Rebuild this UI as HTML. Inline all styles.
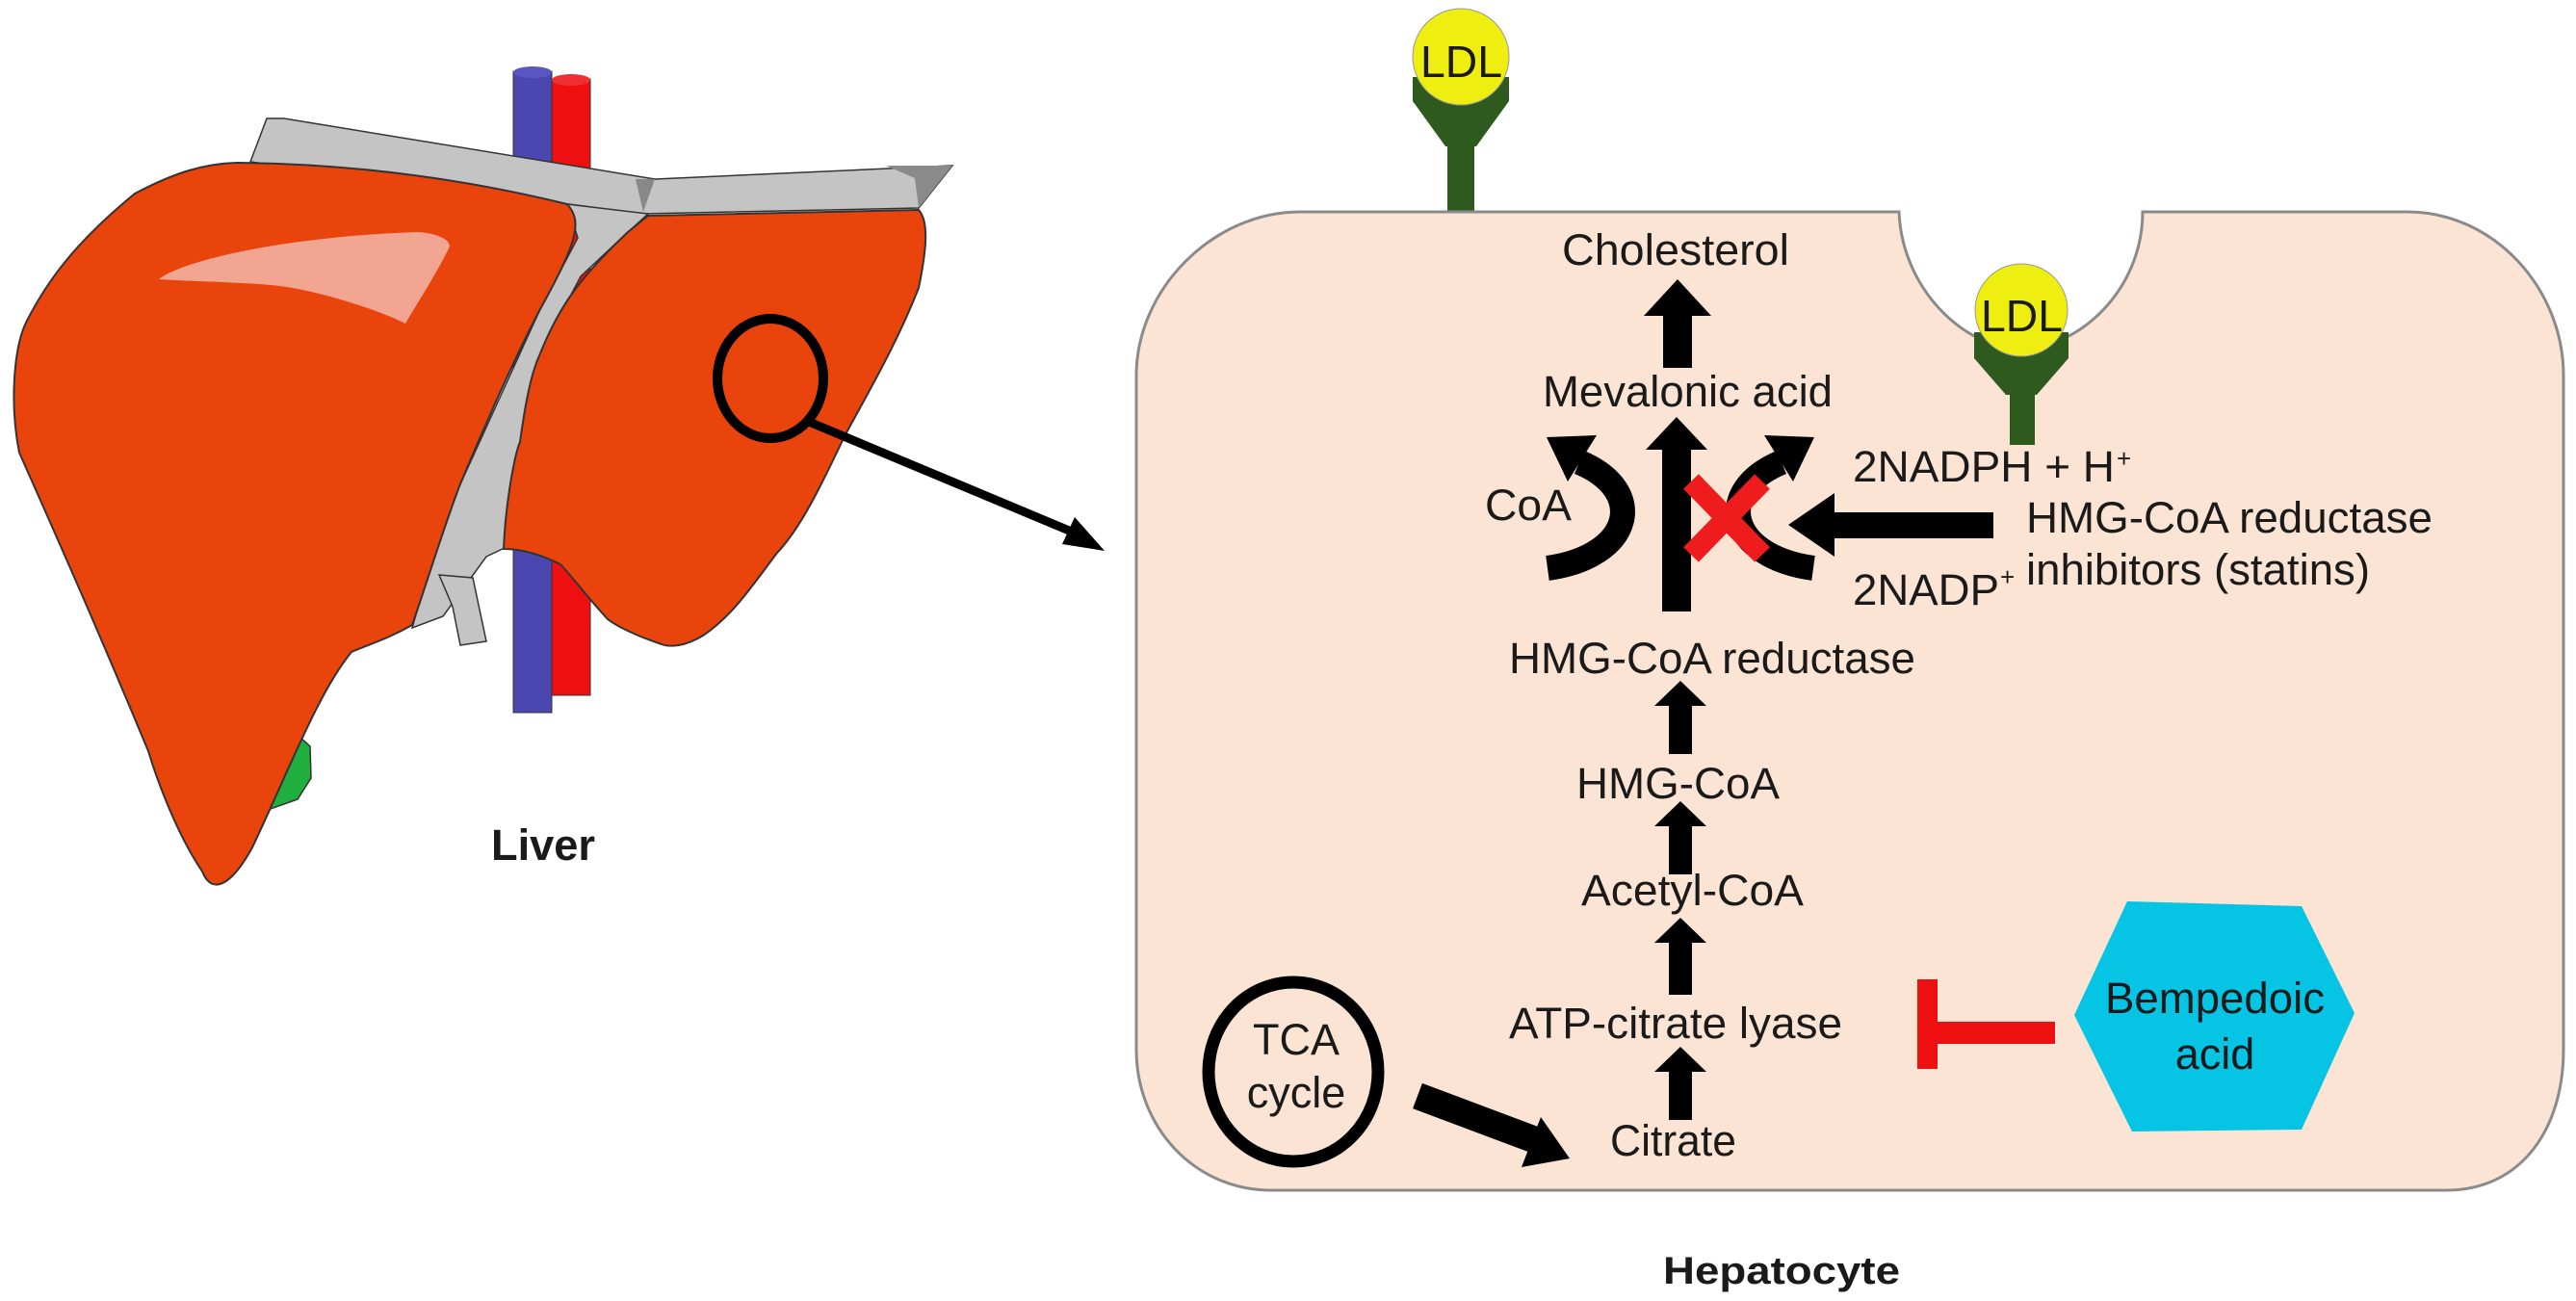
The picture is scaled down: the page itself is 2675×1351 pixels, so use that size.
<!DOCTYPE html>
<html><head><meta charset="utf-8"><style>
html,body{margin:0;padding:0;background:#fff;}
svg{display:block;}
text{font-family:"Liberation Sans",Arial,sans-serif;fill:#1a1a1a;}
</style></head><body>
<svg width="2675" height="1351" viewBox="0 0 2675 1351" xmlns="http://www.w3.org/2000/svg">
<!-- vessels -->
<rect x="533" y="74" width="40" height="666" fill="#4a48b0" stroke="#333" stroke-width="1"/>
<ellipse cx="553" cy="75" rx="20" ry="6" fill="#5a58c0"/>
<rect x="573" y="82" width="40" height="640" fill="#ee1010" stroke="#333" stroke-width="1"/>
<ellipse cx="593" cy="83" rx="20" ry="6" fill="#f03030"/>
<!-- gallbladder -->
<path d="M262,832 L300,755 L322,775 L323,808 L309,830 L281,840 Z" fill="#1fb040" stroke="#333" stroke-width="1.5"/>
<!-- top gray strip -->
<path d="M277,123 L295,123 L680,186 L989,172 L954,216 L666,222 L260,168 Z" fill="#c4c4c4" stroke="#333" stroke-width="1.5"/>
<path d="M660,186 L680,186 L668,220 Z" fill="#888"/>
<path d="M920,172 L989,172 L954,216 L950,185 Z" fill="#8a8a8a"/>
<!-- gray band -->
<path d="M589,212 L673,222 L652,241 L603,287 L561,367 L540,459 L526,568 L505,578 L460,640 L428,652 L442,603 L477,505 L519,413 L561,321 L600,247 Z" fill="#c4c4c4" stroke="#333" stroke-width="1.5"/>
<path d="M456,597 L491,600 L505,666 L478,670 L470,630 Z" fill="#c4c4c4" stroke="#333" stroke-width="1.5"/>
<!-- left lobe -->
<path d="M246,169 C380,170 500,190 589,212 C605,230 600,250 561,321 C530,380 500,450 477,505 C460,550 445,600 428,649 C400,665 380,670 365,677 C330,720 300,800 262,880 C240,920 220,930 210,905 C180,860 160,800 154,780 C100,650 60,560 20,470 C10,420 14,360 28,333 C50,290 80,250 140,201 C180,180 210,170 246,169 Z" fill="#e9440c" stroke="#333" stroke-width="2"/>
<!-- right lobe -->
<path d="M673,224 L954,218 C965,230 962,260 954,299 C930,360 900,410 877,453 C850,510 830,550 807,574 C780,610 760,640 730,660 C710,672 695,672 687,669 C660,660 640,650 631,643 C610,620 595,600 582,586 C560,575 540,570 523,570 C525,520 535,470 540,459 C548,400 555,380 561,367 C580,320 600,290 652,241 Z" fill="#e9440c" stroke="#333" stroke-width="2"/>
<!-- highlight -->
<path d="M165,290 C190,270 300,245 435,241 C460,243 470,252 466,258 C450,290 430,320 421,336 C400,325 330,300 281,296 C230,292 190,292 165,290 Z" fill="#f2a590"/>
<!-- circle and pointer -->
<ellipse cx="800" cy="393" rx="55" ry="62" fill="none" stroke="#000" stroke-width="10"/>
<line x1="840" y1="438" x2="1115" y2="553" stroke="#000" stroke-width="9"/>
<polygon points="1147,572 1103,565 1116,537" fill="#000"/>
<text x="510" y="893" font-size="45" font-weight="bold" textLength="108" lengthAdjust="spacingAndGlyphs" fill="#000">Liver</text>

<!-- LDL top receptor -->
<rect x="1503" y="140" width="28" height="82" fill="#2e5a1e"/>
<path d="M1467,80 L1567,80 L1567,105 L1533,152 L1501,152 L1467,105 Z" fill="#2e5a1e"/>
<circle cx="1517" cy="59" r="50" fill="#eeee10" stroke="#999" stroke-width="1"/>
<text x="1475" y="80" font-size="46" textLength="85" lengthAdjust="spacingAndGlyphs">LDL</text>

<!-- cell -->
<path d="M1350,220 L1972,220 C1975,300 2040,362 2098,362 C2160,362 2225,300 2225,220 L2500,220 C2590,220 2662,300 2662,390 L2662,1090 C2662,1170 2620,1236 2540,1236 L1320,1236 C1240,1236 1180,1170 1180,1090 L1180,390 C1180,300 1260,220 1350,220 Z" fill="#fce4d4" stroke="#8a8a8a" stroke-width="3"/>

<!-- LDL notch receptor -->
<rect x="2087" y="380" width="26" height="82" fill="#2e5a1e"/>
<path d="M2050,345 L2148,345 L2148,372 L2115,410 L2083,410 L2050,372 Z" fill="#2e5a1e"/>
<circle cx="2099" cy="322" r="48" fill="#eeee10" stroke="#999" stroke-width="1"/>
<text x="2057" y="344" font-size="46" textLength="85" lengthAdjust="spacingAndGlyphs">LDL</text>

<!-- pathway text -->
<text x="1622" y="275" font-size="45" textLength="236" lengthAdjust="spacingAndGlyphs">Cholesterol</text>
<text x="1602" y="422" font-size="45" textLength="301" lengthAdjust="spacingAndGlyphs">Mevalonic acid</text>
<text x="1542" y="540" font-size="45" textLength="90" lengthAdjust="spacingAndGlyphs">CoA</text>
<text x="1924" y="500" font-size="45" textLength="272" lengthAdjust="spacingAndGlyphs">2NADPH + H</text>
<text x="2198" y="485" font-size="26">+</text>
<text x="2104" y="553" font-size="45" textLength="422" lengthAdjust="spacingAndGlyphs">HMG-CoA reductase</text>
<text x="2104" y="607" font-size="45" textLength="357" lengthAdjust="spacingAndGlyphs">inhibitors (statins)</text>
<text x="1924" y="628" font-size="45" textLength="152" lengthAdjust="spacingAndGlyphs">2NADP</text>
<text x="2077" y="608" font-size="26">+</text>
<text x="1567" y="699" font-size="45" textLength="422" lengthAdjust="spacingAndGlyphs">HMG-CoA reductase</text>
<text x="1637" y="829" font-size="45" textLength="211" lengthAdjust="spacingAndGlyphs">HMG-CoA</text>
<text x="1642" y="940" font-size="45" textLength="231" lengthAdjust="spacingAndGlyphs">Acetyl-CoA</text>
<text x="1567" y="1078" font-size="45" textLength="346" lengthAdjust="spacingAndGlyphs">ATP-citrate lyase</text>
<text x="1672" y="1200" font-size="45" textLength="131" lengthAdjust="spacingAndGlyphs">Citrate</text>

<!-- vertical arrows -->
<g fill="#000">
<rect x="1727" y="322" width="30" height="60"/><polygon points="1742,290 1777,328 1707,328"/>
<rect x="1726" y="460" width="30" height="175"/><polygon points="1741,433 1773,467 1709,467"/>
<rect x="1733" y="725" width="24" height="58"/><polygon points="1745,707 1772,733 1718,733"/>
<rect x="1733" y="852" width="24" height="56"/><polygon points="1745,832 1772,858 1718,858"/>
<rect x="1733" y="973" width="24" height="60"/><polygon points="1745,953 1772,979 1718,979"/>
<rect x="1733" y="1107" width="24" height="56"/><polygon points="1745,1087 1772,1113 1718,1113"/>
</g>
<!-- curved arrows -->
<path d="M1607,590 C1695,578 1712,510 1640,480" fill="none" stroke="#000" stroke-width="26"/>
<polygon points="1606,454 1658,452 1628,500" fill="#000"/>
<path d="M1883,590 C1795,578 1778,510 1850,480" fill="none" stroke="#000" stroke-width="26"/>
<polygon points="1884,454 1832,452 1862,500" fill="#000"/>
<!-- red X -->
<g stroke="#ee1c1c" stroke-width="22">
<line x1="1756" y1="500" x2="1830" y2="576"/>
<line x1="1830" y1="500" x2="1756" y2="576"/>
</g>
<!-- statin arrow -->
<rect x="1900" y="532" width="170" height="27" fill="#000"/>
<polygon points="1857,545 1905,512 1905,578" fill="#000"/>

<!-- TCA -->
<ellipse cx="1343" cy="1113" rx="88" ry="93" fill="none" stroke="#000" stroke-width="13"/>
<text x="1346" y="1095" font-size="45" text-anchor="middle">TCA</text>
<text x="1346" y="1150" font-size="45" text-anchor="middle">cycle</text>
<line x1="1472" y1="1138" x2="1600" y2="1186" stroke="#000" stroke-width="28"/>
<polygon points="1630,1203 1580,1212 1600,1160" fill="#000"/>

<!-- red T -->
<rect x="1991" y="1017" width="21" height="93" fill="#ee1010"/>
<rect x="2010" y="1061" width="124" height="23" fill="#ee1010"/>

<!-- hexagon -->
<polygon points="2154,1054 2209,936 2390,941 2445,1052 2390,1173 2214,1175" fill="#05c4e4"/>
<text x="2300" y="1052" font-size="45" text-anchor="middle" textLength="228" lengthAdjust="spacingAndGlyphs">Bempedoic</text>
<text x="2300" y="1110" font-size="45" text-anchor="middle">acid</text>

<text x="1727" y="1333" font-size="40" font-weight="bold" textLength="246" lengthAdjust="spacingAndGlyphs" fill="#000">Hepatocyte</text>
</svg>
</body></html>
